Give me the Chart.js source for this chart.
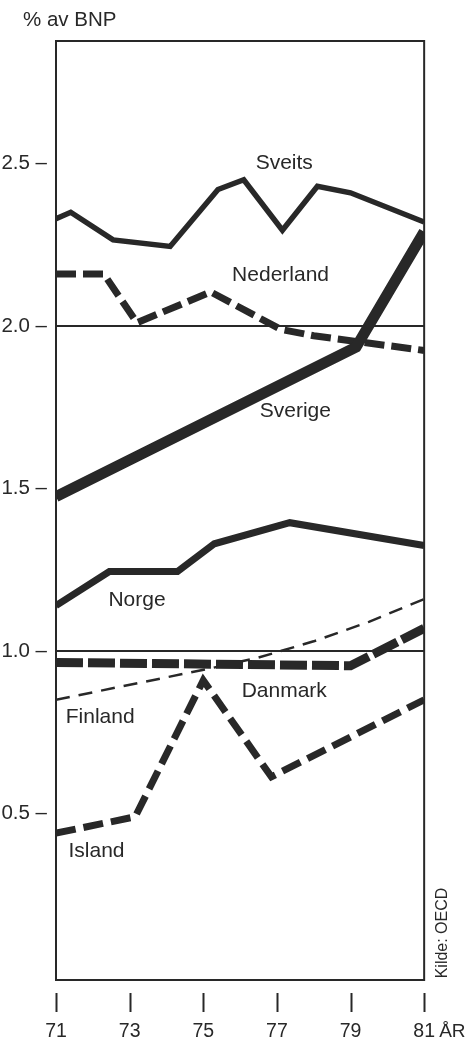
<!DOCTYPE html>
<html>
<head>
<meta charset="utf-8">
<script src="https://cdn.jsdelivr.net/npm/chart.js@4"></script>
<style>
  html, body { margin: 0; padding: 0; background: #ffffff; }
  canvas { display: block; }
</style>
</head>
<body>
<canvas id="chart" width="475" height="1040"></canvas>
<script>
const INK  = '#282828';
const FONT = '"Liberation Sans", Arial, sans-serif';

// tick labels
const xTickValues = [71, 73, 75, 77, 79, 81];
const yTickValues = [0.5, 1.0, 1.5, 2.0, 2.5];
const yGridValues = [1.0, 2.0];

// series (year, % av BNP)
const sveitsYears     = [71, 71.4, 72.55, 74.1, 75.4, 76.1, 77.15, 78.1, 79.0, 81];
const sveitsValues    = [2.33, 2.35, 2.265, 2.245, 2.42, 2.45, 2.295, 2.43, 2.41, 2.32];

const nederlandYears  = [71, 72.3, 73.2, 75.2, 77.1, 78.0, 79.0, 81];
const nederlandValues = [2.16, 2.16, 2.01, 2.105, 1.99, 1.97, 1.955, 1.925];

const sverigeYears    = [71, 79.15, 81];
const sverigeValues   = [1.475, 1.935, 2.29];

const norgeYears      = [71, 72.45, 74.3, 75.3, 77.35, 81];
const norgeValues     = [1.14, 1.245, 1.245, 1.33, 1.395, 1.325];

const danmarkYears    = [71, 79.0, 81];
const danmarkValues   = [0.965, 0.955, 1.07];

const finlandYears    = [71, 75.2, 76.5, 78.0, 79.5, 81];
const finlandValues   = [0.85, 0.947, 0.98, 1.03, 1.09, 1.16];

const islandYears     = [71, 73.15, 75.0, 76.85, 81];
const islandValues    = [0.44, 0.49, 0.91, 0.613, 0.85];

// name labels, in data coordinates
const labelNames  = ['Sveits', 'Nederland', 'Sverige', 'Norge', 'Danmark', 'Finland', 'Island'];
const labelYears  = [77.2, 77.1, 77.5, 73.2, 77.2, 72.2, 72.1];
const labelValues = [2.50, 2.155, 1.737, 1.157, 0.875, 0.798, 0.385];

function pts(xs, ys) {
  return xs.map((x, i) => ({ x: x, y: ys[i] }));
}

function series(label, xs, ys, width, dash, order) {
  return {
    label: label,
    data: pts(xs, ys),
    borderColor: INK,
    borderWidth: width,
    borderDash: dash,
    borderCapStyle: 'butt',
    borderJoinStyle: 'miter',
    pointRadius: 0,
    tension: 0,
    fill: false,
    order: order,
  };
}

const decor = {
  id: 'decor',
  afterDraw(chart) {
    const { ctx, chartArea: a, scales: { x, y } } = chart;
    ctx.save();

    // frame
    ctx.strokeStyle = INK;
    ctx.lineWidth = 2;
    ctx.strokeRect(a.left, a.top, a.right - a.left, a.bottom - a.top);

    // tick marks below the frame
    xTickValues.forEach(v => {
      const px = Math.round(x.getPixelForValue(v)) + 0.5;
      ctx.beginPath();
      ctx.moveTo(px, a.bottom + 13);
      ctx.lineTo(px, a.bottom + 32);
      ctx.stroke();
    });

    ctx.fillStyle = INK;
    ctx.textBaseline = 'middle';

    // unit title
    ctx.font = '20.5px ' + FONT;
    ctx.textAlign = 'left';
    ctx.fillText('% av BNP', 23, 20);

    // axis name after last year
    ctx.font = '19px ' + FONT;
    ctx.fillText('ÅR', x.getPixelForValue(81) + 15, 1032);

    // series names
    ctx.font = '21px ' + FONT;
    ctx.textAlign = 'center';
    labelNames.forEach((name, i) => {
      ctx.fillText(name, x.getPixelForValue(labelYears[i]), y.getPixelForValue(labelValues[i]));
    });

    // source
    ctx.font = '16px ' + FONT;
    ctx.translate(443, 933);
    ctx.rotate(-Math.PI / 2);
    ctx.fillText('Kilde: OECD', 0, 0);

    ctx.restore();
  }
};

new Chart(document.getElementById('chart').getContext('2d'), {
  type: 'line',
  data: {
    datasets: [
      series('Sverige',   sverigeYears,   sverigeValues,   11,  [],       0),
      series('Sveits',    sveitsYears,    sveitsValues,    5.5, [],       1),
      series('Nederland', nederlandYears, nederlandValues, 7,   [20, 7],  2),
      series('Norge',     norgeYears,     norgeValues,     7,   [],       3),
      series('Danmark',   danmarkYears,   danmarkValues,   9,   [27, 5],  4),
      series('Finland',   finlandYears,   finlandValues,   2.5, [14, 9],  5),
      series('Island',    islandYears,    islandValues,    7,   [20, 8],  6),
    ]
  },
  options: {
    responsive: false,
    animation: false,
    layout: { padding: { top: 41, right: 49, left: 0, bottom: 0 } },
    plugins: {
      legend: { display: false },
      tooltip: { enabled: false },
      title: { display: false },
    },
    scales: {
      x: {
        type: 'linear',
        min: 71,
        max: 81,
        afterFit: s => { s.height = 60; },
        afterBuildTicks: s => { s.ticks = xTickValues.map(v => ({ value: v })); },
        ticks: {
          color: INK,
          font: { family: FONT, size: 19.5 },
          padding: 40,
          maxRotation: 0,
          callback: v => String(v),
        },
        grid: { display: false, drawTicks: false },
        border: { display: true, color: INK, width: 2 },
      },
      y: {
        type: 'linear',
        min: -0.012,
        max: 2.877,
        afterFit: s => { s.width = 56; },
        afterBuildTicks: s => { s.ticks = yTickValues.map(v => ({ value: v })); },
        ticks: {
          color: INK,
          font: { family: FONT, size: 20.5 },
          padding: 9,
          callback: v => v.toFixed(1) + ' –',
        },
        grid: {
          drawTicks: false,
          color: c => yGridValues.includes(c.tick && c.tick.value) ? INK : 'rgba(0,0,0,0)',
          lineWidth: 2,
        },
        border: { display: true, color: INK, width: 2 },
      }
    }
  },
  plugins: [decor]
});
</script>
</body>
</html>
